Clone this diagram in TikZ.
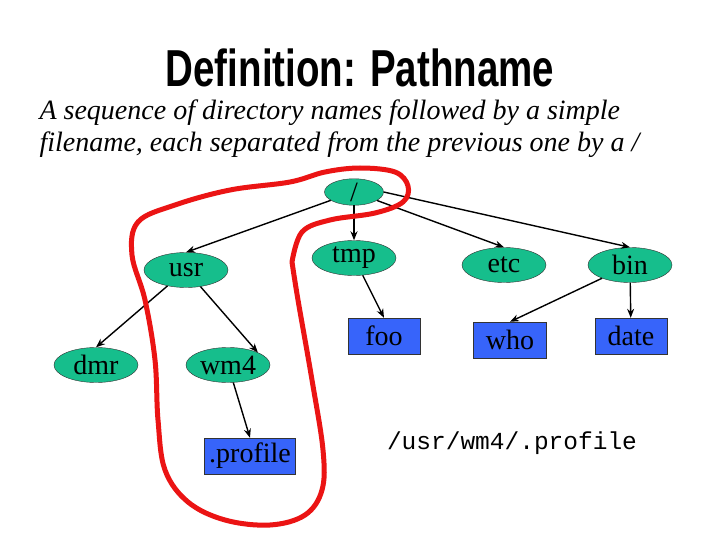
\documentclass[tikz,border=0pt]{standalone}
\usepackage{fontspec}
\setmainfont{Liberation Serif}
\newfontfamily\titlefont[FakeStretch=0.74]{Liberation Sans Bold}
\newfontfamily\monofont{Liberation Mono}
\usetikzlibrary{arrows.meta,shapes.geometric}
\definecolor{dirgreen}{RGB}{22,190,140}
\definecolor{fileblue}{RGB}{55,100,250}
\definecolor{loopred}{RGB}{235,20,20}
\begin{document}
\begin{tikzpicture}[x=1pt,y=-1pt,
  dir/.style={ellipse,draw=black!80,fill=dirgreen,minimum width=84pt,minimum height=35pt,inner sep=0pt,font=\fontsize{28}{28}\selectfont},
  file/.style={rectangle,draw=black!80,fill=fileblue,minimum height=36pt,inner sep=1pt,font=\fontsize{28}{28}\selectfont},
  edge/.style={-{Stealth[length=9pt,width=7pt]},line width=1.4pt}]
\useasboundingbox (0,0) rectangle (720,540);
\fill[white] (0,0) rectangle (720,540);
\node (title) at (360,68) {\titlefont\fontsize{52}{52}\selectfont Definition: Pathname};
\node[anchor=west,align=left,font=\itshape\fontsize{28}{32}\selectfont] (sub) at (36,129) {A sequence of directory names followed by a simple\\filename, each separated from the previous one by a /};
\node[dir,minimum width=59pt,minimum height=22pt] (root) at (354,192) {/};
\node[dir] (usr) at (186,270) {usr};
\node[dir] (tmp) at (354,258) {tmp};
\node[dir] (etc) at (504,265) {etc};
\node[dir] (bin) at (630,265) {bin};
\node[dir] (dmr) at (96,365) {dmr};
\node[dir] (wm4) at (228,365) {wm4};
\node[file,minimum width=72pt] (foo) at (384,336) {foo};
\node[file,minimum width=73pt] (who) at (510,340) {who};
\node[file,minimum width=72pt] (date) at (631,336) {date};
\node[file,minimum width=91pt] (prof) at (250,456) {.profile};
\node (path) at (512,443) {\monofont\fontsize{24.5}{25}\selectfont /usr/wm4/.profile};
\draw[edge] (root) -- (usr.north);
\draw[edge] (root) -- (tmp);
\draw[edge] (root) -- (etc.north);
\draw[edge] (root.east) -- (bin.north);
\draw[edge] (usr) -- (dmr.north);
\draw[edge] (usr) -- (wm4.north east);
\draw[edge] (wm4) -- (prof.north);
\draw[edge] (tmp) -- (foo.north);
\draw[edge] (bin) -- (who.north);
\draw[edge] (bin) -- (date);
\draw[loopred,line width=5pt,line cap=round,line join=round] plot[smooth,tension=0.6] coordinates {
 (292,262) (298,300) (312,380) (323,450) (322,490) (305,515) (270,525) (225,520) (188,502) (165,470) (158,420) (155,360) (145,300) (132,255) (138,222) (175,205) (230,190) (290,182) (325,172) (360,168) (395,172) (408,186) (403,202) (375,213) (330,220) (302,232) (292,262)};
\end{tikzpicture}
\end{document}
